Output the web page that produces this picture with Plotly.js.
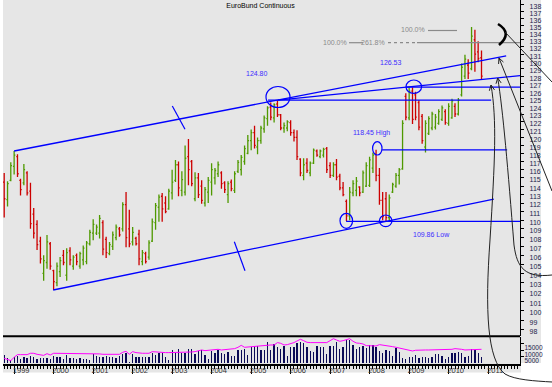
<!DOCTYPE html>
<html><head><meta charset="utf-8">
<script src="https://cdn.plot.ly/plotly-3.0.1.min.js"></script>
<style>html,body{margin:0;padding:0;background:#fff;}#chart{width:552px;height:387px;}</style>
</head><body><div id="chart"></div>
<script>
const months = ['1998-10-01','1998-11-01','1998-12-01',
'1999-01-01','1999-02-01','1999-03-01','1999-04-01','1999-05-01','1999-06-01','1999-07-01','1999-08-01','1999-09-01','1999-10-01','1999-11-01','1999-12-01',
'2000-01-01','2000-02-01','2000-03-01','2000-04-01','2000-05-01','2000-06-01','2000-07-01','2000-08-01','2000-09-01','2000-10-01','2000-11-01','2000-12-01',
'2001-01-01','2001-02-01','2001-03-01','2001-04-01','2001-05-01','2001-06-01','2001-07-01','2001-08-01','2001-09-01','2001-10-01','2001-11-01','2001-12-01',
'2002-01-01','2002-02-01','2002-03-01','2002-04-01','2002-05-01','2002-06-01','2002-07-01','2002-08-01','2002-09-01','2002-10-01','2002-11-01','2002-12-01',
'2003-01-01','2003-02-01','2003-03-01','2003-04-01','2003-05-01','2003-06-01','2003-07-01','2003-08-01','2003-09-01','2003-10-01','2003-11-01','2003-12-01',
'2004-01-01','2004-02-01','2004-03-01','2004-04-01','2004-05-01','2004-06-01','2004-07-01','2004-08-01','2004-09-01','2004-10-01','2004-11-01','2004-12-01',
'2005-01-01','2005-02-01','2005-03-01','2005-04-01','2005-05-01','2005-06-01','2005-07-01','2005-08-01','2005-09-01','2005-10-01','2005-11-01','2005-12-01',
'2006-01-01','2006-02-01','2006-03-01','2006-04-01','2006-05-01','2006-06-01','2006-07-01','2006-08-01','2006-09-01','2006-10-01','2006-11-01','2006-12-01',
'2007-01-01','2007-02-01','2007-03-01','2007-04-01','2007-05-01','2007-06-01','2007-07-01','2007-08-01','2007-09-01','2007-10-01','2007-11-01','2007-12-01',
'2008-01-01','2008-02-01','2008-03-01','2008-04-01','2008-05-01','2008-06-01','2008-07-01','2008-08-01','2008-09-01','2008-10-01','2008-11-01','2008-12-01',
'2009-01-01','2009-02-01','2009-03-01','2009-04-01','2009-05-01','2009-06-01','2009-07-01','2009-08-01','2009-09-01','2009-10-01','2009-11-01','2009-12-01',
'2010-01-01','2010-02-01','2010-03-01','2010-04-01','2010-05-01','2010-06-01','2010-07-01','2010-08-01','2010-09-01','2010-10-01','2010-11-01'];

const openP = [114.5,112.4,114.7,
116.4,117.6,114.7,114.4,115.6,113.4,110.7,109.5,107.6,104.0,105.2,107.3,
104.3,103.0,104.2,106.0,103.8,106.5,104.8,106.0,104.8,105.5,105.3,107.3,
108.5,108.5,108.5,109.7,107.8,106.2,107.0,108.0,109.0,109.0,111.8,109.0,
107.5,107.9,108.4,105.3,106.2,105.8,107.6,109.7,111.5,112.8,112.0,111.3,
113.2,114.7,116.6,113.5,113.3,117.6,117.0,112.5,115.0,114.0,112.0,113.3,
114.5,115.0,115.5,115.6,114.4,113.0,114.5,113.5,115.8,116.0,117.0,118.0,
119.6,120.6,118.8,119.6,121.1,122.4,123.9,122.5,124.3,122.9,121.2,121.2,
121.9,120.6,120.0,117.3,115.3,116.8,115.6,116.8,118.3,117.6,117.8,118.6,
116.5,115.3,116.6,115.2,113.8,112.2,110.5,113.2,113.5,113.9,113.3,114.0,
114.1,116.2,117.9,115.3,112.3,112.5,110.3,113.3,114.0,115.3,116.1,125.3,
122.5,126.0,125.5,124.5,122.7,118.8,120.5,121.2,121.3,121.8,122.3,123.3,
121.8,122.5,124.0,123.0,125.5,128.0,129.5,129.0,133.0,131.3,130.5];
const highP = [115.6,114.6,116.9,
118.3,117.9,114.9,116.7,115.8,114.4,111.4,110.0,108.1,106.0,108.3,107.5,
104.4,105.2,105.8,106.6,106.8,106.9,106.0,106.2,106.4,107.1,107.6,108.9,
110.1,109.5,110.6,110.0,108.1,107.5,108.7,109.5,109.2,112.1,113.3,111.2,
109.2,108.1,108.9,106.6,106.4,107.7,110.2,112.0,113.0,113.2,112.8,113.7,
116.0,117.2,117.0,115.8,119.0,119.8,117.2,115.7,115.6,114.7,113.9,115.1,
116.8,116.2,117.0,115.8,114.6,114.6,114.8,115.8,117.2,117.8,119.0,120.3,
121.0,121.5,120.0,121.5,122.8,124.0,124.5,124.4,124.8,123.0,121.9,122.2,
122.2,121.0,120.9,117.4,117.4,117.4,117.0,118.6,118.5,118.5,118.7,118.8,
116.9,116.9,117.3,115.5,114.5,112.4,113.9,114.7,115.1,114.0,115.9,116.9,
117.6,118.1,118.45,116.2,113.3,113.3,113.0,114.4,115.6,116.2,122.2,125.7,
126.5,126.5,125.9,124.8,123.0,122.2,122.7,123.3,123.0,123.6,124.1,123.6,
124.4,125.0,124.4,125.1,129.7,130.9,130.3,134.8,134.4,132.8,131.5];
const lowP = [110.3,111.6,114.6,
115.4,115.1,112.9,114.1,112.9,109.0,107.9,106.6,105.1,103.2,104.5,104.4,
102.2,102.6,103.6,104.9,103.2,104.9,104.4,104.9,104.5,104.9,105.0,107.1,
107.7,108.3,107.9,106.0,105.7,106.0,106.6,107.7,108.1,108.7,106.9,106.9,
107.1,107.1,104.9,104.9,105.1,105.5,107.5,108.9,109.8,109.8,110.8,111.2,
112.4,114.5,112.8,112.8,112.9,114.1,114.0,112.2,112.6,111.9,111.6,112.0,
112.9,114.2,115.1,113.7,113.2,112.0,113.4,113.2,115.6,115.3,116.6,117.9,
118.4,118.6,117.9,119.2,120.6,121.5,122.2,121.9,122.6,120.9,120.6,120.8,
120.2,119.5,117.2,115.2,114.7,115.6,115.2,116.7,117.6,117.4,117.5,115.6,
115.0,115.1,114.7,113.5,112.8,109.9,110.0,112.8,112.8,112.8,113.2,113.9,
113.9,115.6,114.6,111.8,110.0,109.86,110.0,113.2,113.8,114.2,116.0,122.2,
122.2,121.7,122.2,120.9,119.2,118.1,120.3,120.9,121.0,121.6,122.1,121.6,
121.5,122.4,122.6,122.8,125.3,127.6,127.6,128.8,128.6,129.9,127.6];
const closeP = [112.5,114.3,116.5,
117.8,115.5,113.6,116.0,113.2,109.6,108.5,107.2,105.6,105.4,107.5,104.8,
103.1,104.8,105.4,105.2,106.3,105.5,105.8,105.3,106.2,106.8,107.4,108.6,
109.5,109.2,110.2,106.7,106.3,107.2,108.3,109.2,108.3,111.8,108.0,107.3,
108.6,107.3,105.6,106.3,105.3,107.4,109.8,111.7,112.7,111.3,111.0,113.4,
114.5,116.6,113.8,114.8,117.4,116.0,114.3,115.0,113.0,112.3,113.6,114.7,
116.0,115.9,116.6,114.3,113.6,114.3,113.7,115.5,116.9,117.5,118.6,119.6,
120.6,119.0,119.6,121.2,122.5,123.8,122.6,124.2,122.9,121.2,121.5,122.0,
120.6,120.0,117.6,115.6,116.6,115.9,116.8,118.4,117.8,118.3,118.5,116.0,
115.3,116.6,115.1,113.8,113.0,110.5,113.3,114.3,114.6,113.2,115.6,116.5,
117.2,117.8,115.3,112.3,110.4,110.3,112.6,114.2,115.3,116.0,121.8,122.6,
126.0,122.3,122.6,121.3,119.6,121.8,122.4,123.0,122.6,123.3,123.8,121.9,
124.0,124.7,123.0,124.8,129.2,130.3,128.4,133.5,131.0,130.4,128.0];
const volume = [6400,3840,2560,
5120,5900,3300,5100,3800,5900,5100,3600,4350,4350,4350,3600,
5600,5100,5100,3070,6400,4350,3840,3580,4350,3580,3580,2300,
6900,5900,5100,5100,5900,5100,5100,4350,5900,6900,7700,1300,
6900,5100,5100,5100,5100,5100,7700,6400,7700,7700,5100,2560,
10200,7700,10750,7700,8200,10750,10750,6900,9500,10200,6400,3300,
9500,7700,10200,8200,6900,8700,5600,5600,10200,10200,11000,6400,
12800,13300,13300,10200,10200,16100,10200,14600,12300,11260,13300,5630,
12300,12300,15360,16400,15360,12300,9700,8700,13300,12800,12800,6900,
13300,13300,16600,11260,12300,17900,17900,14100,10750,12300,13300,11500,
14100,14100,12300,9700,8200,10200,9700,5600,11500,9000,3840,3070,
4600,4600,6100,4350,4600,4600,4350,4600,6900,6900,5600,3070,
5100,7700,7700,8450,7700,5100,5900,10750,10200,8200,4600];
const volumeAvg = [3840,3070,2050,
4600,6650,6650,6400,6650,7700,7700,6900,6650,6100,7400,6400,
7700,7700,7700,7700,7700,7700,7700,7700,7700,7700,7700,7700,
7400,7200,7200,6900,6900,6900,6900,6900,6900,8450,9200,6900,
8960,8200,7700,7700,7700,7700,8960,8700,8200,8200,8200,8200,
8200,8200,8200,8200,8200,8700,8700,8960,9470,10240,9730,10000,
10500,10500,10750,10240,10500,10500,10750,11260,12290,13800,12290,12540,
12800,13300,13300,13300,13570,13800,14080,14080,15900,15360,14080,14340,
14850,15900,17150,18430,17400,16130,15900,15900,15900,15900,15900,15900,
17400,18900,17900,16900,17400,18430,18900,16900,15600,15360,14850,13570,
13300,13300,13300,14340,14080,13570,13300,12800,12290,11780,11260,10750,
10240,9470,10000,10240,10000,10240,10240,10240,10240,10750,10750,10240,
10500,10750,11260,11260,10750,10240,10240,10240,10750,10750,10750];

const priceTicks = [98,99,100,101,102,103,104,105,106,107,108,109,110,111,112,113,114,115,116,117,118,119,120,121,122,123,124,125,126,127,128,129,130,131,132,133,134,135,136,137,138];
const volumeTicks = [5000,10000,15000];

// trend lines (date, price)
const upperChannelX = ['1999-01-01','2011-06-17'];
const upperChannelY = [118.3,130.75];
const peakLineX = ['2005-09-06','2011-10-25'];
const peakLineY = [124.80,128.07];
const lowerChannelX = ['1999-12-28','2011-02-23'];
const lowerChannelY = [102.2,112.47];
const levelValues = [124.80,126.53,118.45,109.86];
const levelStart = ['2005-06-06','2008-12-04','2008-04-26','2007-05-29'];
const levelEnd = ['2011-01-29','2011-10-25','2011-06-26','2011-10-25'];

const GREEN='#4f9900', RED='#cc0000', BLUE='#0000ff';
const traces = [];
traces.push({type:'ohlc', x:months, open:openP, high:highP, low:lowP, close:closeP,
  xaxis:'x', yaxis:'y', tickwidth:0.4, hoverinfo:'skip',
  increasing:{line:{color:GREEN,width:1.3}}, decreasing:{line:{color:RED,width:1.3}}});
const lineStyle = {color:BLUE,width:1.3};
traces.push({type:'scatter',mode:'lines',x:upperChannelX,y:upperChannelY,line:lineStyle,xaxis:'x',yaxis:'y',hoverinfo:'skip'});
traces.push({type:'scatter',mode:'lines',x:peakLineX,y:peakLineY,line:lineStyle,xaxis:'x',yaxis:'y',hoverinfo:'skip'});
traces.push({type:'scatter',mode:'lines',x:lowerChannelX,y:lowerChannelY,line:lineStyle,xaxis:'x',yaxis:'y',hoverinfo:'skip'});
for (let k=0;k<levelValues.length;k++){
  traces.push({type:'scatter',mode:'lines',x:[levelStart[k],levelEnd[k]],y:[levelValues[k],levelValues[k]],line:lineStyle,xaxis:'x',yaxis:'y',hoverinfo:'skip'});
}
traces.push({type:'bar',x:months,y:volume,xaxis:'x',yaxis:'y2',marker:{color:'#0a0a55'},width:1.0e9,hoverinfo:'skip'});
traces.push({type:'scatter',mode:'lines',x:months,y:volumeAvg,xaxis:'x',yaxis:'y2',line:{color:'#ff00ff',width:1},hoverinfo:'skip'});

// pixel -> paper helpers for hand-drawn decorations
const PW=517, PH=364, ML=3;
const X = x => (x-ML)/PW;
const Y = y => 1 - y/PH;
const P = (x,y) => X(x).toFixed(5)+','+Y(y).toFixed(5);
function chev(hx,hy,tx,ty){
  const dx=tx-hx, dy=ty-hy, L=Math.hypot(dx,dy), ux=dx/L, uy=dy/L, len=6, a=0.45;
  const r=(s)=>[hx+len*(ux*Math.cos(s)-uy*Math.sin(s)), hy+len*(ux*Math.sin(s)+uy*Math.cos(s))];
  const p1=r(a), p2=r(-a);
  return 'M'+P(p1[0],p1[1])+' L'+P(hx,hy)+' L'+P(p2[0],p2[1]);
}
const shapes = [];
const GREY_BG='#e6e6e6';
shapes.push({type:'rect',xref:'paper',yref:'paper',x0:X(3),x1:X(521),y0:Y(372.5),y1:Y(0),fillcolor:GREY_BG,line:{width:0},layer:'below'});
shapes.push({type:'rect',xref:'paper',yref:'paper',x0:X(521),x1:X(541),y0:Y(363),y1:Y(0),fillcolor:GREY_BG,line:{width:0},layer:'below'});
shapes.push({type:'line',xref:'paper',yref:'paper',x0:X(3),x1:X(520),y0:Y(336.3),y1:Y(336.3),line:{color:'#000',width:2}});
function ell(cx,cy,rx,ry){shapes.push({type:'circle',xref:'paper',yref:'paper',x0:X(cx-rx),x1:X(cx+rx),y0:Y(cy+ry),y1:Y(cy-ry),line:{color:BLUE,width:1.2}});}
ell(278,97,12,10.5); ell(413.8,86.7,7.8,6.7); ell(377.3,148.3,4.7,6.7); ell(346.3,220.8,6.3,7.5); ell(385.7,220.8,6.3,5.8);
function pth(d,color,width,dash){shapes.push({type:'path',xref:'paper',yref:'paper',path:d,line:{color:color,width:width,dash:dash||'solid'}});}
pth('M'+P(172.3,106)+' L'+P(185,129.3),BLUE,1.2);
pth('M'+P(234.3,241.7)+' L'+P(245,270.7),BLUE,1.2);
const GREYL='#8a8a8a';
pth('M'+P(428,30.5)+' L'+P(457,30.5),GREYL,1.2);
pth('M'+P(349,42.7)+' L'+P(363,42.7),GREYL,1.2);
pth('M'+P(388,42.7)+' L'+P(417,42.7),GREYL,1.2,'3px,3px');
pth('M'+P(417,42.7)+' L'+P(520,42.7),GREYL,1.2);
// black hand drawings
pth('M'+P(498,24)+' Q'+P(513,33)+' '+P(499,45),'#000',2.6);
pth('M'+P(505,32)+' L'+P(552,82),'#222',1);
pth('M'+P(499,58)+' L'+P(552,191),'#222',1);
pth(chev(499,58,552,191),'#222',1);
pth('M'+P(497.7,78)+' C'+P(503,110)+' '+P(508,170)+' '+P(514,245)+' C'+P(517,268)+' '+P(525,278)+' '+P(552,275),'#222',1);
pth(chev(497.7,78,503,110),'#222',1);
pth('M'+P(491,85)+' C'+P(497,120)+' '+P(495,160)+' '+P(490,240)+' C'+P(485,310)+' '+P(487,360)+' '+P(505,374)+' C'+P(515,380)+' '+P(535,381)+' '+P(552,382),'#222',1);
pth(chev(491,85,497,120),'#222',1);

const TXT = (t,x,y,color,size) => ({text:t,xref:'paper',yref:'paper',x:X(x),y:Y(y),xanchor:'center',yanchor:'middle',showarrow:false,font:{family:'Liberation Sans, Arial, sans-serif',size:size||7,color:color}});
const LBLUE='#3d2dff';
const annotations = [
  TXT('124.80',257,74,LBLUE), TXT('126.53',391,62.7,LBLUE),
  TXT('118.45 High',371,133,LBLUE), TXT('109.86 Low',431,234,LBLUE),
  TXT('100.0%',413,29.5,GREYL), TXT('100.0%',335,42.3,GREYL), TXT('261.8%',373,42.3,GREYL)
];

const layout = {
  width:552, height:387, margin:{l:3,r:32,t:0,b:23},
  paper_bgcolor:'#ffffff', plot_bgcolor:'rgba(0,0,0,0)', showlegend:false,
  title:{text:'EuroBund Continuous', x:260.5/552, xanchor:'center', y:1-5.5/387, yanchor:'middle', font:{family:'Liberation Sans, Arial, sans-serif',size:7,color:'#000'}},
  xaxis:{type:'date', range:['1998-09-20','2011-10-23'], anchor:'y2', rangeslider:{visible:false},
    showgrid:false, zeroline:false, showline:true, linecolor:'#000', linewidth:1.5,
    ticks:'outside', ticklen:8, tickcolor:'#000', tickwidth:1.2, tick0:'1999-01-01', dtick:'M12', tickformat:'%Y',
    ticklabelshift:7, ticklabelstandoff:-10,
    tickfont:{family:'Liberation Sans, Arial, sans-serif',size:7.5,color:'#333'},
    minor:{dtick:'M1',ticks:'outside',ticklen:3,tickcolor:'#000',tickwidth:1,showgrid:false}},
  yaxis:{type:'log', domain:[1-336/364,1], range:[Math.log10(97.37),Math.log10(138.68)], side:'right', anchor:'x',
    showgrid:false, zeroline:false, showline:true, linecolor:'#000', linewidth:1.2,
    ticks:'outside', ticklen:3, tickcolor:'#000', tickvals:priceTicks, ticktext:priceTicks.map(String),
    ticklabelshift:2, ticklabelstandoff:4,
    tickfont:{family:'Liberation Sans, Arial, sans-serif',size:7,color:'#22224a'}},
  yaxis2:{domain:[0,27/364], range:[-540,20200], side:'right', anchor:'x',
    showgrid:false, zeroline:false, showline:true, linecolor:'#000', linewidth:1.2,
    ticks:'outside', ticklen:3, tickcolor:'#000', tickvals:volumeTicks, ticktext:volumeTicks.map(String),
    ticklabelshift:4, ticklabelstandoff:-1,
    tickfont:{family:'Liberation Sans, Arial, sans-serif',size:6.5,color:'#22224a'}},
  shapes:shapes, annotations:annotations, bargap:0
};
Plotly.newPlot('chart', traces, layout, {displayModeBar:false, staticPlot:true});
</script></body></html>
